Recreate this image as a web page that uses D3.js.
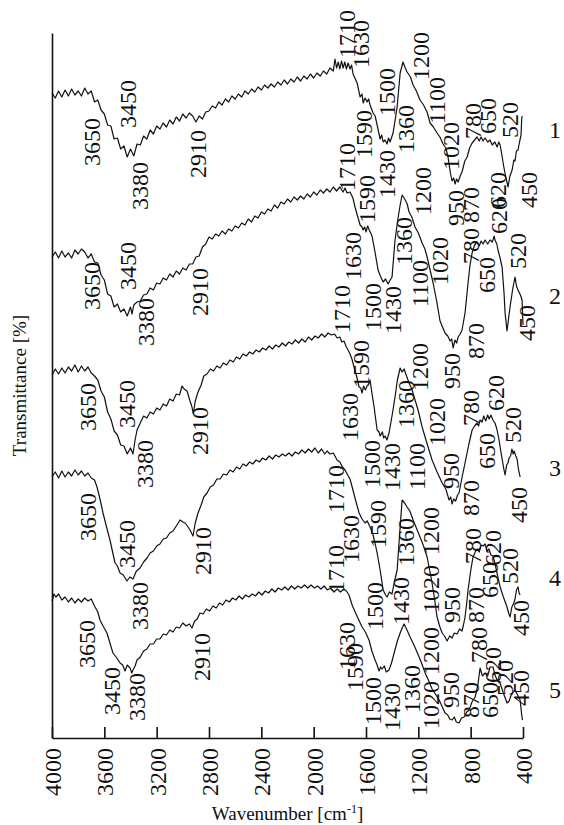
<!DOCTYPE html>
<html>
<head>
<meta charset="utf-8">
<script src="https://cdn.jsdelivr.net/npm/d3@7"></script>
<style>
  body { margin: 0; background: #fff; }
  svg { display: block; }
</style>
</head>
<body>
<script>
// spectra: [wavenumber, transmittance (arbitrary units, offset per sample)]
var spectrum1 = [[4000,129],[3975,128],[3950,129.4],[3925,128.2],[3900,129.6],[3875,128.4],[3850,129.8],[3825,128.6],[3800,129.4],[3775,128.4],[3750,130],[3725,128.8],[3700,129.4],[3675,127.2],[3650,127.6],[3625,125.6],[3600,124.8],[3575,122.6],[3550,122.4],[3525,119.8],[3500,120],[3475,117.8],[3450,118.4],[3425,116.2],[3400,117.8],[3375,116.4],[3350,118.8],[3325,118.6],[3300,120.4],[3275,119.8],[3250,121.6],[3225,120.8],[3200,122.4],[3175,121.8],[3150,123],[3125,122.2],[3100,123.6],[3075,122.8],[3050,124.2],[3025,123.4],[3000,124.8],[2975,124],[2950,125],[2925,124.4],[2900,123.2],[2875,124.4],[2850,123.8],[2825,125.2],[2800,125.4],[2775,126.4],[2750,126],[2725,127.2],[2700,126.6],[2675,127.8],[2650,127.2],[2625,128.4],[2600,127.8],[2575,128.8],[2550,128.2],[2525,129.4],[2500,128.8],[2475,129.8],[2450,129.2],[2425,130.2],[2400,129.6],[2375,130.6],[2350,130],[2325,130.8],[2300,130.2],[2275,131.2],[2250,130.6],[2225,131.6],[2200,130.8],[2175,131.8],[2150,131.2],[2125,132.2],[2100,131.4],[2075,132.4],[2050,131.8],[2025,132.8],[2000,132],[1975,133],[1950,132.4],[1925,133.4],[1900,132.8],[1875,134],[1850,133.4],[1837,135.8],[1825,134],[1812,135.2],[1800,133.8],[1787,135.4],[1775,134],[1762,135.2],[1750,133.8],[1737,135],[1722,133.8],[1710,134.6],[1699,132.8],[1668,131],[1645,128.2],[1630,128.8],[1622,127],[1607,128],[1592,127.2],[1580,127.8],[1569,126.6],[1546,125],[1530,124.4],[1515,122.6],[1492,119.8],[1480,120.6],[1469,119.2],[1455,119.6],[1439,118.8],[1428,120],[1416,119.2],[1393,121],[1362,126.2],[1339,133],[1317,135.2],[1300,134],[1286,133.2],[1260,132.2],[1240,130.6],[1215,129.4],[1187,127.6],[1160,126.6],[1133,125.2],[1110,123],[1085,122.2],[1057,121],[1035,120.2],[1011,118.8],[990,118],[973,116.2],[955,113],[942,111.4],[930,112],[919,110.8],[908,111.8],[896,111.2],[880,112.4],[866,113.2],[845,115.4],[827,116.2],[808,118],[789,119],[770,119.6],[751,120.2],[735,119.4],[720,120.2],[705,119.4],[690,120],[670,119.2],[652,119.6],[635,118.6],[615,119.2],[598,118.2],[585,119.2],[575,118.6],[560,116.4],[552,115],[535,112.6],[514,110.2],[500,112.4],[483,113.6],[470,115.6],[461,115.4],[450,117.4],[438,117.6],[425,119.4],[415,120.6],[410,123.8],[407,124.4]];

var spectrum2 = [[4000,96.2],[3975,97.2],[3950,96],[3925,97.4],[3900,96.2],[3875,97],[3850,96],[3825,97.6],[3800,96.8],[3775,97.8],[3750,97.2],[3725,96],[3700,96.8],[3675,95.2],[3650,95],[3625,92.6],[3600,91.6],[3575,88.8],[3550,88.4],[3525,86.2],[3500,86.8],[3475,85.2],[3450,85.8],[3425,84.4],[3400,86.2],[3388,84.8],[3375,86.6],[3350,87.2],[3325,87.4],[3300,88.6],[3275,88.8],[3250,90],[3225,89.6],[3200,91],[3175,90.8],[3150,92],[3125,91.6],[3100,92.8],[3075,92.2],[3050,93.4],[3025,92.8],[3000,94],[2975,93.6],[2950,94.8],[2925,94.8],[2900,96.2],[2875,96.4],[2850,98.2],[2825,98.8],[2800,100.2],[2775,99.8],[2750,100.8],[2725,100.4],[2700,101.4],[2675,100.8],[2650,101.8],[2625,101.4],[2600,102.4],[2575,102],[2550,103],[2525,102.6],[2500,103.8],[2475,103.2],[2450,104.4],[2425,104],[2400,105.2],[2375,104.8],[2350,105.8],[2325,105.4],[2300,106.6],[2275,106],[2250,107.2],[2225,106.8],[2200,107.8],[2175,107.2],[2150,108.2],[2125,107.6],[2100,108.4],[2075,107.8],[2050,108.8],[2025,108.2],[2000,109.2],[1975,108.6],[1950,109.6],[1925,109],[1900,109.8],[1875,109.2],[1850,110.2],[1825,109.4],[1800,110.2],[1775,109.2],[1760,110],[1745,109],[1722,109.2],[1700,108],[1684,106.2],[1665,104.4],[1645,102.6],[1630,102.2],[1622,101.6],[1610,102.2],[1600,101.2],[1587,102.4],[1575,101.6],[1554,100.4],[1531,97.2],[1508,93.6],[1490,92.4],[1469,91.2],[1450,91.8],[1431,90.8],[1415,91.6],[1401,92.2],[1378,99.6],[1355,104],[1339,106.6],[1324,108.6],[1300,107.6],[1285,106.8],[1271,105.2],[1250,104.2],[1225,102.2],[1200,101],[1171,99],[1150,97.8],[1133,96.2],[1110,93.6],[1087,91],[1060,87.4],[1034,83.4],[1015,82.2],[996,81],[975,80.4],[957,79.4],[945,79.8],[934,78],[920,79.6],[907,79],[896,80.2],[880,80.8],[866,81.6],[843,85],[820,91],[805,94.6],[789,97],[770,98.6],[751,99.2],[735,98.4],[720,99.4],[705,98.8],[690,99.6],[670,98.8],[652,99.6],[635,99.2],[620,100.4],[614,99.6],[600,98.8],[591,97.6],[575,96],[560,94.2],[545,89],[537,85],[522,81.4],[510,84],[499,86.2],[480,89.6],[461,92.2],[450,90.4],[438,89.6],[420,88.6],[407,87.6],[400,82.6]];

var spectrum3 = [[4000,72.6],[3975,73.8],[3950,72.8],[3925,74],[3900,73],[3875,74.2],[3850,73.4],[3825,74.6],[3800,73.2],[3775,74.4],[3750,73.4],[3725,74.2],[3700,73],[3675,72.4],[3650,71.6],[3625,69.4],[3600,68.2],[3575,65.2],[3550,63.8],[3525,61.4],[3500,60.6],[3475,58.6],[3450,58.4],[3425,56.8],[3400,58],[3381,56.8],[3365,59.6],[3350,61.6],[3325,63],[3300,64.4],[3275,64],[3250,65.2],[3225,64.8],[3200,66],[3175,65.6],[3150,66.8],[3125,66.4],[3100,67.8],[3075,67.4],[3050,68.8],[3025,68.6],[3006,70.4],[2990,69.8],[2968,69.4],[2945,67.4],[2930,66.2],[2920,64.8],[2905,67.4],[2884,69.2],[2860,70.6],[2840,72.4],[2815,72.8],[2790,73.8],[2765,73.4],[2740,74.4],[2715,74],[2690,75],[2665,74.6],[2640,75.6],[2615,75.2],[2590,76.2],[2565,75.8],[2540,76.8],[2515,76.4],[2490,77.2],[2465,76.8],[2440,77.6],[2415,77.2],[2390,78],[2365,77.6],[2340,78.4],[2315,77.8],[2290,78.6],[2265,78.2],[2240,79],[2215,78.4],[2190,79.2],[2165,78.8],[2140,79.6],[2115,79],[2090,79.8],[2065,79.2],[2040,80.2],[2015,79.6],[1990,80.4],[1965,80],[1940,80.8],[1915,80.2],[1890,81],[1865,80.6],[1840,80.8],[1821,80],[1800,80.2],[1785,79.2],[1768,79.4],[1750,78.2],[1729,77.2],[1710,76],[1691,74.2],[1672,72.4],[1653,70.2],[1640,70],[1630,69],[1618,70.4],[1605,69.6],[1592,70.4],[1580,70.8],[1569,71.6],[1555,69],[1538,66.2],[1515,61.6],[1500,61.2],[1492,60.4],[1475,61.2],[1465,60],[1454,60.4],[1440,59.6],[1424,61],[1400,64.6],[1378,68.2],[1360,71.6],[1339,74],[1325,73.2],[1309,73.8],[1290,72.4],[1271,71],[1250,69.8],[1225,67.6],[1200,65.4],[1171,62.2],[1135,59],[1095,55.6],[1060,53.4],[1018,51],[990,49.8],[965,47.6],[952,48.2],[942,46.8],[930,47.8],[915,47.4],[900,48.6],[889,49],[870,51.6],[843,55],[815,58.6],[789,61.6],[770,62.4],[751,63],[740,62.4],[728,63.6],[713,63.2],[700,64.4],[685,63.4],[670,64.6],[659,63.8],[645,64.6],[630,63.6],[614,63],[600,61.8],[583,59.6],[565,56.6],[545,53.6],[537,52.6],[525,54.6],[515,55],[506,56],[495,56.4],[485,57.8],[475,56.8],[468,57.4],[455,56.4],[445,55.8],[435,53.8],[422,52.2]];

var spectrum4 = [[4000,52.2],[3975,53.2],[3950,52],[3925,53.4],[3900,52.2],[3875,53.2],[3850,52.4],[3825,53.6],[3800,52.6],[3775,53.4],[3750,52.4],[3725,53],[3700,52],[3675,51.6],[3656,50.2],[3635,48],[3610,45],[3585,42.4],[3557,39.6],[3535,37],[3518,35],[3500,34.4],[3480,33],[3455,32.6],[3427,31.4],[3405,32.2],[3381,31.8],[3355,33.4],[3327,34],[3300,35.2],[3274,36],[3250,37],[3225,37.4],[3200,38.4],[3175,38.8],[3150,39.8],[3125,40],[3100,41],[3075,41.4],[3050,42.4],[3021,43.6],[3000,43.2],[2983,43],[2960,42.2],[2945,41.6],[2930,40.8],[2922,40.4],[2905,43],[2884,45],[2860,46.6],[2840,48.2],[2815,49],[2790,50.2],[2765,50.6],[2740,51.8],[2715,51.8],[2690,52.8],[2665,52.6],[2640,53.6],[2615,53.2],[2590,54.2],[2565,53.8],[2540,54.8],[2515,54.4],[2490,55.2],[2465,54.8],[2440,55.6],[2415,55.2],[2390,56],[2365,55.6],[2340,56.4],[2315,55.8],[2290,56.6],[2265,56.2],[2240,56.8],[2215,56.4],[2190,57],[2165,56.4],[2140,57.2],[2115,56.8],[2090,57.6],[2065,57],[2040,57.8],[2015,57.2],[1990,58],[1965,57],[1940,57.8],[1915,56.8],[1898,57.4],[1875,56.8],[1850,57],[1821,55.6],[1800,55.2],[1780,54.2],[1760,53.6],[1740,52.6],[1722,51.8],[1706,50.2],[1680,47.6],[1653,45],[1630,43.8],[1607,43],[1590,43.4],[1569,42.2],[1550,41],[1531,39],[1515,37],[1492,33.6],[1469,29.6],[1450,28.6],[1439,28.2],[1420,29.2],[1401,28.8],[1385,31],[1362,33.6],[1345,40],[1324,47.6],[1305,47],[1286,46.2],[1265,45.4],[1240,43.6],[1215,42],[1187,40.2],[1160,38.4],[1133,36.2],[1115,33.8],[1095,31],[1075,27.6],[1057,24.2],[1035,22.2],[1018,21],[1000,20.4],[980,19.4],[960,20.4],[942,20],[925,21],[904,20.8],[885,21.8],[866,21.4],[855,22.6],[843,24.2],[830,27],[820,29.6],[800,33.4],[782,36.2],[765,37.2],[751,37.8],[735,37.2],[720,38.6],[705,38.4],[690,38.8],[675,37.4],[660,37.8],[645,36.6],[629,36.4],[610,34.4],[592,32.2],[575,30.2],[550,28.2],[522,26.2],[510,25],[499,24.2],[485,26.2],[470,27],[461,27.8],[450,29.6],[438,30.2],[430,29],[422,28.6]];

var spectrum5 = [[4000,27.4],[3985,28.8],[3970,28.2],[3950,28.8],[3925,27.6],[3900,28.2],[3875,27.2],[3850,28],[3825,27],[3800,27.8],[3775,27.2],[3750,28],[3725,27.4],[3700,27.8],[3675,26.4],[3650,25.2],[3633,23.6],[3610,22.4],[3580,21],[3555,18.8],[3534,17],[3510,16.2],[3480,15],[3460,14.6],[3442,13.4],[3425,14.6],[3404,14],[3390,13],[3381,13.6],[3365,14.4],[3350,15.6],[3325,16.2],[3300,17.4],[3275,17.8],[3250,18.8],[3225,18.8],[3200,19.8],[3175,19.8],[3150,20.8],[3125,20.6],[3100,21.6],[3075,21.2],[3050,22.2],[3025,22],[3000,23],[2975,22.4],[2950,22.8],[2930,22],[2910,23.4],[2890,23.8],[2869,25],[2845,24.8],[2820,25.8],[2795,25.4],[2770,26.4],[2745,26],[2720,27],[2695,26.6],[2670,27.6],[2645,27.2],[2620,28],[2595,27.6],[2570,28.4],[2545,27.8],[2520,28.6],[2495,28.2],[2470,28.8],[2445,28.4],[2420,29.2],[2395,28.6],[2370,29.4],[2345,29],[2320,29.8],[2295,29.2],[2270,30],[2245,29.6],[2220,30.2],[2195,29.6],[2170,30.4],[2145,29.8],[2120,30.4],[2095,30],[2070,30.6],[2045,30],[2020,30.6],[1995,30],[1970,30.4],[1945,29.8],[1920,30.4],[1895,29.6],[1870,30],[1845,29.2],[1820,29.8],[1795,29.2],[1770,29.8],[1750,29.4],[1730,28.6],[1706,26.6],[1680,25],[1655,23.6],[1630,22.2],[1605,21.2],[1577,19.6],[1555,17.4],[1531,15.6],[1515,14.6],[1500,13.4],[1488,14.2],[1477,13.8],[1460,14.4],[1445,13.2],[1424,13.6],[1405,15],[1385,17],[1360,19.4],[1339,21],[1320,22.2],[1309,22.8],[1290,21.8],[1263,20.2],[1230,18.4],[1194,16.2],[1170,14.6],[1148,13],[1120,11.4],[1095,9.8],[1070,8.8],[1041,7.6],[1020,6.4],[996,5],[975,4.6],[960,3.8],[942,3.6],[925,4.2],[910,3.2],[889,3],[870,4],[850,4.2],[830,5.2],[812,5.6],[790,7.2],[766,8.2],[745,10.6],[728,14],[710,12.4],[690,13],[670,12.4],[652,14.2],[629,14.2],[614,12.6],[595,11.4],[575,11],[550,9],[522,7],[506,7.4],[490,8.6],[468,9.4],[461,9.6],[445,8.8],[430,8],[422,7.6],[410,4.6],[404,3.6]];

// band labels: [text, wavenumber, transmittance at top of label]
var labels1 = [["3650",3694,124],["3450",3419,131.6],["3380",3327,115.2],["2910",2891,121.6],["1710",1745,145.6],["1630",1638,143.6],["1590",1622,125.6],["1500",1439,134],["1430",1439,117.6],["1360",1294,126.6],["1200",1179,141.2],["1100",1057,132.2],["1020",957,123.2],["950",919,109.6],["870",797,110.2],["780",789,127],["650",667,128],["520",499,127.2],["620",598,113.2],["450",361,113.2]];
var labels2 = [["3650",3694,95.2],["3450",3419,99.2],["3380",3281,88],["2910",2869,94],["1710",1745,119],["1590",1592,112.6],["1630",1706,101.2],["1500",1546,91],["1430",1393,90.4],["1360",1309,104.2],["1200",1171,114.2],["1100",1187,95.6],["1020",1034,100.2],["950",942,77],["870",766,83],["780",797,102],["650",675,96.2],["620",583,108],["520",445,101],["450",369,86.6]];
var labels3 = [["3650",3725,71],["3450",3427,71.6],["3380",3289,59.6],["2910",2869,66.2],["1710",1783,90.6],["1630",1722,69],["1590",1645,79.6],["1500",1554,59.6],["1430",1401,59],["1360",1301,71.6],["1200",1187,79],["1100",1210,59],["1020",1057,68],["950",957,57],["780",797,69.6],["870",797,51.6],["650",675,61],["620",606,72.6],["520",476,66.2],["450",430,50.2]];
var labels4 = [["3650",3725,49],["3450",3427,43.6],["3380",3327,31.2],["2910",2846,42.2],["1710",1829,54.6],["1630",1714,44.6],["1590",1508,47.6],["1500",1531,31.2],["1430",1332,32.2],["1360",1301,44],["1200",1110,46.2],["1020",1110,34.6],["950",942,30.2],["870",766,30.2],["780",789,42],["650",652,35.2],["620",636,41.6],["520",499,38],["450",422,27.6]];
var labels5 = [["3650",3732,23.6],["3450",3541,14.2],["3380",3350,13],["2910",2853,21],["1710",1836,38.6],["1630",1752,23.2],["1590",1691,19],["1500",1546,12.2],["1430",1401,11],["1360",1255,14.6],["1200",1110,22.2],["1020",1110,11.4],["950",957,13.2],["870",804,11.2],["780",743,22.2],["650",652,11.2],["620",636,18.2],["520",537,15.6],["450",415,13.6]];

var sampleNames = ["1", "2", "3", "4", "5"];
var sampleLevels = [121.6, 88.4, 54, 32, 9.6];
var xTicks = [4000, 3600, 3200, 2800, 2400, 2000, 1600, 1200, 800, 400];

var spectra = [spectrum1, spectrum2, spectrum3, spectrum4, spectrum5];
var bandLabels = [labels1, labels2, labels3, labels4, labels5];

// chart area
var svgWidth = 564;
var svgHeight = 825;
var margin = {top: 33, right: 41, bottom: 87, left: 52};
var chartWidth = svgWidth - margin.left - margin.right;
var chartHeight = svgHeight - margin.top - margin.bottom;

var svg = d3.select("body")
  .append("svg")
  .attr("width", svgWidth)
  .attr("height", svgHeight)
  .style("font-family", "'Liberation Serif', 'Times New Roman', serif");

var chartGroup = svg.append("g")
  .attr("transform", `translate(${margin.left}, ${margin.top})`);

var xScale = d3.scaleLinear()
  .domain([4000, 400])
  .range([0, chartWidth]);

var yScale = d3.scaleLinear()
  .domain([0, 141])
  .range([chartHeight, 0]);

// axes: bottom with inward ticks, left as a bare line
var bottomAxis = d3.axisBottom(xScale)
  .tickValues(xTicks)
  .tickSizeInner(-11)
  .tickSizeOuter(0)
  .tickFormat(d3.format("d"));

var xAxis = chartGroup.append("g")
  .attr("transform", `translate(0, ${chartHeight})`)
  .call(bottomAxis);

xAxis.selectAll("path, line")
  .attr("stroke", "#111")
  .attr("stroke-width", 1.6);

xAxis.selectAll("text")
  .attr("transform", "rotate(-90)")
  .attr("text-anchor", "end")
  .attr("x", -10)
  .attr("y", 0)
  .attr("dy", "0.35em")
  .attr("font-size", "24px")
  .attr("font-family", "'Liberation Serif', serif")
  .attr("fill", "#111");

var leftAxis = d3.axisLeft(yScale).tickValues([]).tickSizeOuter(0);
chartGroup.append("g")
  .call(leftAxis)
  .select("path")
  .attr("stroke", "#111")
  .attr("stroke-width", 1.6);

// spectra
var line = d3.line()
  .x(d => xScale(d[0]))
  .y(d => yScale(d[1]));

chartGroup.selectAll(".spectrum")
  .data(spectra)
  .enter()
  .append("path")
  .attr("class", "spectrum")
  .attr("d", line)
  .attr("fill", "none")
  .attr("stroke", "#111")
  .attr("stroke-width", 1.2)
  .attr("stroke-linejoin", "round");

// band labels, rotated
bandLabels.forEach(function (set) {
  chartGroup.selectAll(null)
    .data(set)
    .enter()
    .append("text")
    .attr("transform", d => `translate(${xScale(d[1])}, ${yScale(d[2])}) rotate(-90)`)
    .attr("text-anchor", "end")
    .attr("dy", "0.35em")
    .attr("font-size", "24px")
    .attr("fill", "#111")
    .text(d => d[0]);
});

// sample numbers at right
chartGroup.selectAll(".sample")
  .data(sampleNames)
  .enter()
  .append("text")
  .attr("class", "sample")
  .attr("x", chartWidth + 32)
  .attr("y", (d, i) => yScale(sampleLevels[i]))
  .attr("dy", "0.35em")
  .attr("text-anchor", "middle")
  .attr("font-size", "24px")
  .attr("fill", "#111")
  .text(d => d);

// axis titles
var xTitle = svg.append("text")
  .attr("x", margin.left + chartWidth / 2)
  .attr("y", 820)
  .attr("text-anchor", "middle")
  .attr("font-size", "19px")
  .attr("fill", "#111");
xTitle.append("tspan").text("Wavenumber [cm");
xTitle.append("tspan").attr("dy", "-7").attr("font-size", "12px").text("-1");
xTitle.append("tspan").attr("dy", "7").text("]");

svg.append("text")
  .attr("transform", `translate(26, ${margin.top + chartHeight / 2}) rotate(-90)`)
  .attr("text-anchor", "middle")
  .attr("font-size", "19px")
  .attr("fill", "#111")
  .text("Transmittance [%]");
</script>
</body>
</html>
